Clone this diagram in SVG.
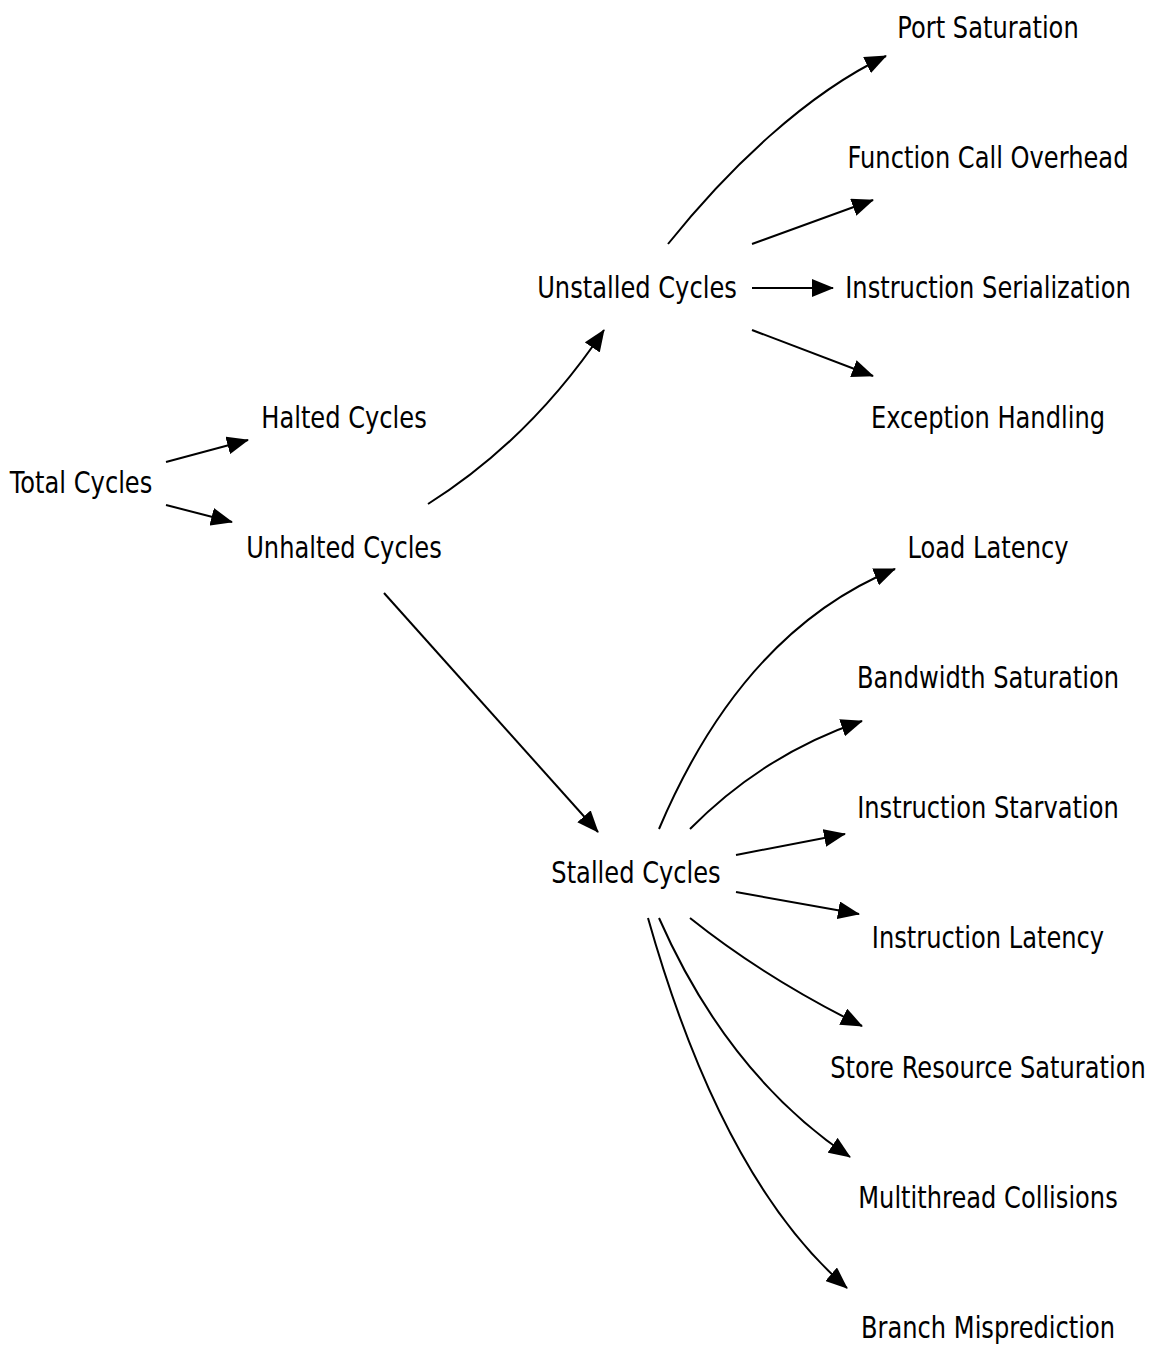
<svg xmlns="http://www.w3.org/2000/svg" width="1149" height="1346" viewBox="0 0 1149 1346">
<defs>
<style>
text{font-family:"DejaVu Sans","Liberation Sans",sans-serif;font-size:30px;fill:#000;text-anchor:middle}
.e{fill:none;stroke:#000;stroke-width:2;marker-end:url(#arr)}
</style>
<marker id="arr" markerWidth="22" markerHeight="18" refX="21" refY="9" orient="auto" markerUnits="userSpaceOnUse">
<path d="M0,0 L22,9 L0,18 z" fill="#000"/>
</marker>
</defs>
<rect width="1149" height="1346" fill="#fff"/>
<g id="connectors">
<path class="e" d="M166,462 L248,440"/>
<path class="e" d="M166,505 L232,522"/>
<path class="e" d="M428,504 Q530,440 604,330"/>
<path class="e" d="M384,593 L598,832"/>
<path class="e" d="M668,244 C728,169 806,94 886,56"/>
<path class="e" d="M752,244 L873,200"/>
<path class="e" d="M752,288 L833,288"/>
<path class="e" d="M752,330 L873,376"/>
<path class="e" d="M659,829 Q743,631 895,569"/>
<path class="e" d="M690,829 Q764,754 862,721"/>
<path class="e" d="M736,855 L845,834"/>
<path class="e" d="M736,892 L859,914"/>
<path class="e" d="M690,918 Q765,978 862,1026"/>
<path class="e" d="M659,918 Q728,1075 850,1157"/>
<path class="e" d="M648,918 Q722,1180 847,1288"/>
</g>
<g id="n-total" transform="translate(81,493) scale(0.805,1)"><text>Total Cycles</text></g>
<g id="n-halted" transform="translate(344,428) scale(0.805,1)"><text>Halted Cycles</text></g>
<g id="n-unhalted" transform="translate(344,558) scale(0.805,1)"><text>Unhalted Cycles</text></g>
<g id="n-unstalled" transform="translate(637,298) scale(0.805,1)"><text>Unstalled Cycles</text></g>
<g id="n-stalled" transform="translate(636,883) scale(0.805,1)"><text>Stalled Cycles</text></g>
<g id="n-port" transform="translate(988,38) scale(0.805,1)"><text>Port Saturation</text></g>
<g id="n-func" transform="translate(988,168) scale(0.805,1)"><text>Function Call Overhead</text></g>
<g id="n-serial" transform="translate(988,298) scale(0.805,1)"><text>Instruction Serialization</text></g>
<g id="n-except" transform="translate(988,428) scale(0.805,1)"><text>Exception Handling</text></g>
<g id="n-load" transform="translate(988,558) scale(0.805,1)"><text>Load Latency</text></g>
<g id="n-bandwidth" transform="translate(988,688) scale(0.805,1)"><text>Bandwidth Saturation</text></g>
<g id="n-starv" transform="translate(988,818) scale(0.805,1)"><text>Instruction Starvation</text></g>
<g id="n-instlat" transform="translate(988,948) scale(0.805,1)"><text>Instruction Latency</text></g>
<g id="n-store" transform="translate(988,1078) scale(0.805,1)"><text>Store Resource Saturation</text></g>
<g id="n-multi" transform="translate(988,1208) scale(0.805,1)"><text>Multithread Collisions</text></g>
<g id="n-branch" transform="translate(988,1338) scale(0.805,1)"><text>Branch Misprediction</text></g>
</svg>
